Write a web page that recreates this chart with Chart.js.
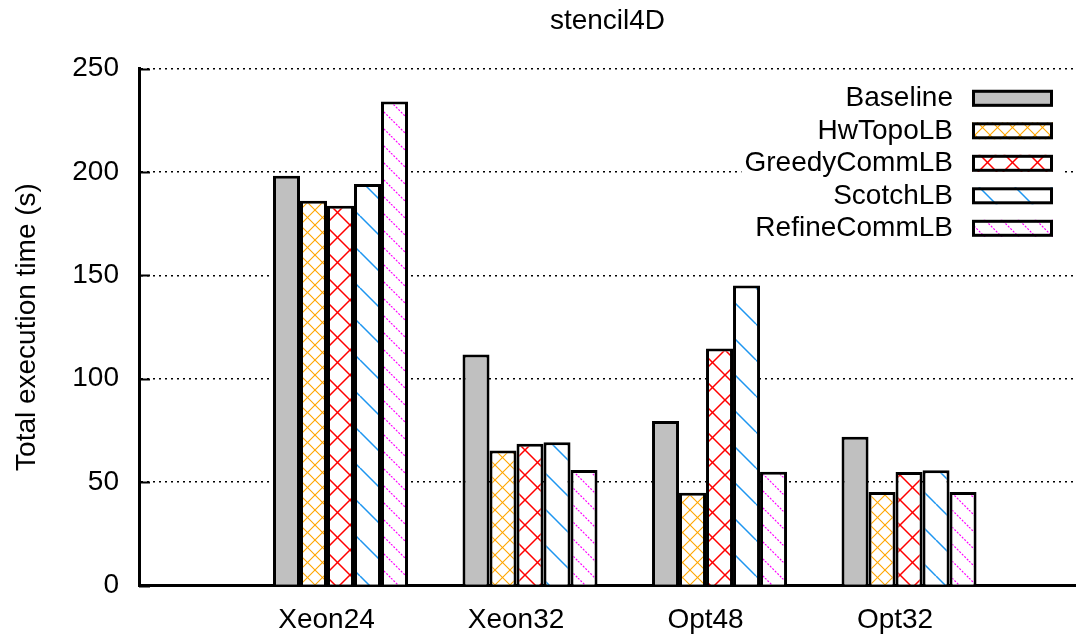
<!DOCTYPE html>
<html>
<head>
<meta charset="utf-8">
<script src="https://cdn.jsdelivr.net/npm/chart.js@4.4.1/dist/chart.umd.min.js"></script>
<style>
  html, body { margin: 0; padding: 0; background: #fff; }
  #wrap { width: 1076px; height: 635px; }
</style>
</head>
<body>
<div id="wrap"><canvas id="c" width="1076" height="635"></canvas></div>
<script>
// ---- data ----
const chartTitle = 'stencil4D';
const yAxisTitle = 'Total execution time (s)';
const categories = ['Xeon24', 'Xeon32', 'Opt48', 'Opt32'];
const seriesNames = ['Baseline', 'HwTopoLB', 'GreedyCommLB', 'ScotchLB', 'RefineCommLB'];
const baseline     = [198.1, 111.7, 79.5, 71.9];
const hwTopoLB     = [186.0, 65.3, 44.9, 45.2];
const greedyCommLB = [183.6, 68.6, 114.6, 54.9];
const scotchLB     = [194.1, 69.3, 145.1, 55.7];
const refineCommLB = [234.0, 55.8, 55.0, 45.2];
const yTicks = [0, 50, 100, 150, 200, 250];

const seriesValues = [baseline, hwTopoLB, greedyCommLB, scotchLB, refineCommLB];

// ---- styles ----
const FONT = "'Liberation Sans', Arial, sans-serif";
const canvas = document.getElementById('c');
const ctx0 = canvas.getContext('2d');

function tile(size, draw) {
  const c = document.createElement('canvas');
  c.width = size; c.height = size;
  const g = c.getContext('2d');
  g.fillStyle = '#ffffff';
  g.fillRect(0, 0, size, size);
  draw(g, size);
  return ctx0.createPattern(c, 'repeat');
}
function diagDown(g, s) { // "\" lines
  g.beginPath();
  for (let k = -1; k <= 1; k++) { g.moveTo(k * s, 0); g.lineTo(k * s + s, s); }
  g.stroke();
}
function diagUp(g, s) { // "/" lines
  g.beginPath();
  for (let k = -1; k <= 1; k++) { g.moveTo(k * s + s, 0); g.lineTo(k * s, s); }
  g.stroke();
}
const fills = [
  '#c0c0c0',
  tile(15, (g, s) => { g.strokeStyle = '#ffa500'; g.lineWidth = 1.1; diagDown(g, s); diagUp(g, s); }),
  tile(25, (g, s) => { g.strokeStyle = '#ff0000'; g.lineWidth = 1.5; diagDown(g, s); diagUp(g, s); }),
  tile(36, (g, s) => { g.strokeStyle = '#1e96f0'; g.lineWidth = 1.5; diagDown(g, s); }),
  tile(17, (g, s) => { g.strokeStyle = '#ff00ff'; g.lineWidth = 1.2; g.setLineDash([2, 1.5]); diagDown(g, s); })
];

// inward tick marks on the y axis
const innerTicks = {
  id: 'innerTicks',
  beforeDatasetsDraw(chart) {
    const y = chart.scales.y, ca = chart.chartArea, ctx = chart.ctx;
    ctx.save();
    ctx.strokeStyle = '#000';
    ctx.lineWidth = 2;
    yTicks.forEach(v => {
      const py = Math.round(y.getPixelForValue(v)) + 0.5;
      ctx.beginPath(); ctx.moveTo(ca.left, py); ctx.lineTo(ca.left + 11, py); ctx.stroke();
    });
    ctx.restore();
  }
};

// gnuplot-style key: right-aligned text, sample box on the right
const keyBox = {
  id: 'keyBox',
  afterDatasetsDraw(chart) {
    const ctx = chart.ctx;
    const ca = chart.chartArea;
    const boxRight = ca.right - 23, boxW = 81, boxH = 17;
    const firstRow = 98.3, rowStep = 32.5;
    const textRight = boxRight - boxW - 19;
    ctx.save();
    ctx.font = '28px ' + FONT;
    const ds = chart.data.datasets;
    let minLeft = textRight;
    ds.forEach(d => { minLeft = Math.min(minLeft, textRight - ctx.measureText(d.label).width); });
    ctx.fillStyle = '#fff';
    ctx.fillRect(minLeft - 3, firstRow - rowStep / 2, boxRight + 12 - (minLeft - 3), rowStep * ds.length);
    ds.forEach((d, i) => {
      const cy = firstRow + i * rowStep;
      ctx.fillStyle = '#000';
      ctx.textAlign = 'right';
      ctx.textBaseline = 'middle';
      ctx.fillText(d.label, textRight, cy);
      const bx = boxRight - boxW, by = cy - boxH / 2;
      ctx.fillStyle = d.backgroundColor;
      ctx.fillRect(bx, by, boxW, boxH);
      ctx.lineWidth = 3;
      ctx.strokeStyle = '#000';
      ctx.strokeRect(bx + 1.5, by + 1.5, boxW - 3, boxH - 3);
    });
    ctx.restore();
  }
};

Chart.defaults.color = '#000';
Chart.defaults.font.family = FONT;

new Chart(canvas, {
  type: 'bar',
  data: {
    datasets: seriesNames.map((name, si) => ({
      label: name,
      data: categories.map((c, i) => ({ x: i, y: seriesValues[si][i] })),
      backgroundColor: fills[si],
      borderColor: '#000',
      borderWidth: 3,
      borderSkipped: 'start',
      categoryPercentage: 0.7124,
      barPercentage: 1.0
    }))
  },
  options: {
    responsive: false,
    animation: false,
    events: [],
    devicePixelRatio: 1,
    layout: { padding: { left: 0, right: 0, top: 0, bottom: 0 } },
    plugins: {
      legend: { display: false },
      tooltip: { enabled: false },
      title: {
        display: true,
        text: chartTitle,
        fullSize: false,
        font: { size: 28, weight: 'normal', family: FONT },
        color: '#000',
        padding: { top: 4.5, bottom: 30.4 }
      }
    },
    scales: {
      x: {
        type: 'linear',
        offset: false,
        min: -1.0633,
        max: 3.881,
        grid: { display: false, drawTicks: false },
        border: { display: true, color: '#000', width: 3 },
        afterBuildTicks: (s) => { s.ticks = categories.map((c, i) => ({ value: i })); },
        afterFit: (s) => { s.height = 49.5; },
        ticks: {
          autoSkip: false,
          maxRotation: 0,
          padding: 18,
          labelOffset: -14,
          font: { size: 28, family: FONT },
          color: '#000',
          callback: (v) => categories[v] ?? ''
        }
      },
      y: {
        min: 0,
        max: 250,
        afterBuildTicks: (s) => { s.ticks = yTicks.map(v => ({ value: v })); },
        afterFit: (s) => { s.width = 139; },
        grid: { color: '#000', lineWidth: 1.5, drawTicks: false },
        border: { display: true, color: '#000', width: 3, dash: [2, 4] },
        ticks: {
          padding: 20,
          font: { size: 28, family: FONT },
          color: '#000'
        },
        title: {
          display: true,
          text: yAxisTitle,
          font: { size: 28, family: FONT },
          color: '#000',
          padding: { top: 10, bottom: 0 }
        }
      }
    }
  },
  plugins: [innerTicks, keyBox]
});
</script>
</body>
</html>
